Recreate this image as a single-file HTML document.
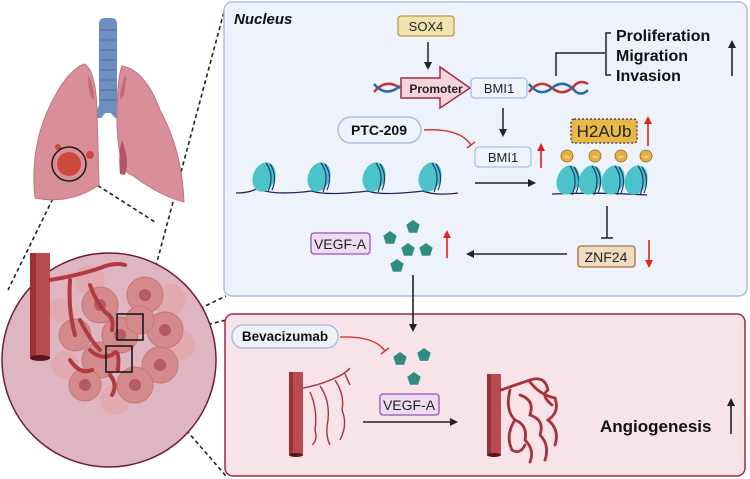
<!DOCTYPE html>
<html><head><meta charset="utf-8"><style>
html,body{margin:0;padding:0;background:#fff}
svg{display:block}
text{font-family:"Liberation Sans",Arial,sans-serif}
</style></head><body>
<svg width="750" height="479" viewBox="0 0 750 479" xmlns="http://www.w3.org/2000/svg">
<defs>
<marker id="ab" markerWidth="8" markerHeight="8" refX="6" refY="4" orient="auto" markerUnits="userSpaceOnUse"><path d="M0,0 L8,4 L0,8 z" fill="#222"/></marker>
<marker id="ar" markerWidth="8" markerHeight="8" refX="6" refY="4" orient="auto" markerUnits="userSpaceOnUse"><path d="M0,0 L8,4 L0,8 z" fill="#e0231b"/></marker>
<g id="pent"><polygon points="0,-7 6.7,-2.2 4.1,5.7 -4.1,5.7 -6.7,-2.2" fill="#2f8c80"/></g>
<g id="nuc"><ellipse cx="0" cy="0" rx="11" ry="15" fill="#4cc3cb" transform="rotate(20)"/><path d="M2,-14 Q11,-2 4,15 M6,-13 Q14,-1 8,13" stroke="#1e3a6a" stroke-width="1.2" fill="none"/></g>
</defs>

<!-- dashed zoom lines -->
<g stroke="#222" stroke-width="1.6" stroke-dasharray="4,3" fill="none">
<line x1="62" y1="180" x2="8" y2="290"/>
<line x1="86" y1="178" x2="155" y2="222"/>
<line x1="143" y1="314" x2="225" y2="8"/>
<line x1="143" y1="336" x2="226" y2="296"/>
<line x1="140" y1="341" x2="226" y2="320"/>
<line x1="136" y1="372" x2="226" y2="476"/>
</g>

<!-- lungs -->
<rect x="99" y="18" width="18" height="95" rx="5" fill="#6d8fc0"/>
<g stroke="#4f6fa0" stroke-width="1">
<line x1="99" y1="30" x2="117" y2="30"/><line x1="99" y1="40" x2="117" y2="40"/><line x1="99" y1="50" x2="117" y2="50"/><line x1="99" y1="60" x2="117" y2="60"/><line x1="99" y1="70" x2="117" y2="70"/><line x1="99" y1="80" x2="117" y2="80"/><line x1="99" y1="90" x2="117" y2="90"/><line x1="99" y1="100" x2="117" y2="100"/>
</g>
<path d="M99,105 L94,118 L101,118 L108,110 L115,118 L122,118 L117,105z" fill="#6d8fc0"/>
<path d="M84,64 Q96,70 97,112 L99,185 Q70,205 35,198 Q30,150 48,110 Q65,72 84,64z" fill="#d98f9a" stroke="#c07482" stroke-width="1"/>
<path d="M122,66 Q145,70 160,110 Q182,150 184,202 Q160,196 132,175 Q118,172 117,120 Q117,78 122,66z" fill="#d98f9a" stroke="#c07482" stroke-width="1"/>
<path d="M122,140 Q130,160 125,175 L120,174 Q118,150 122,140z" fill="#b45566"/>
<path d="M88,75 Q94,85 94,100 L90,95 Q88,85 88,75z" fill="#c06a7a"/>
<path d="M126,75 Q120,85 120,100 L124,95 Q126,85 126,75z" fill="#c06a7a"/>
<circle cx="69" cy="164" r="12" fill="#c94a3a"/>
<circle cx="90" cy="155" r="4" fill="#c94a3a"/><circle cx="58" cy="147" r="3" fill="#c94a3a"/>
<circle cx="69" cy="164" r="17" fill="none" stroke="#1a1a1a" stroke-width="1.5"/>

<!-- big circle -->
<circle cx="109" cy="360" r="107" fill="#dfb5c2" stroke="#6b1f33" stroke-width="1.5"/>
<g fill="#e3a8ac" opacity="0.8">
<circle cx="90" cy="280" r="15"/><circle cx="170" cy="300" r="16"/><circle cx="180" cy="345" r="15"/><circle cx="115" cy="400" r="15"/><circle cx="65" cy="365" r="14"/><circle cx="60" cy="310" r="12"/>
</g>
<g fill="#d48a8a" stroke="#c67676" stroke-width="1">
<circle cx="100" cy="305" r="18"/><circle cx="145" cy="295" r="18"/><circle cx="165" cy="330" r="18"/><circle cx="160" cy="365" r="18"/><circle cx="135" cy="385" r="18"/><circle cx="100" cy="360" r="18"/><circle cx="75" cy="335" r="16"/><circle cx="85" cy="385" r="16"/><circle cx="120" cy="335" r="18"/><circle cx="140" cy="320" r="14"/>
</g>
<g fill="#b55a66"><circle cx="100" cy="305" r="6"/><circle cx="145" cy="295" r="6"/><circle cx="165" cy="330" r="6"/><circle cx="135" cy="385" r="6"/><circle cx="120" cy="335" r="6"/><circle cx="85" cy="385" r="6"/><circle cx="160" cy="365" r="6"/></g>
<rect x="30" y="253" width="20" height="105" fill="#b84a50"/>
<rect x="30" y="253" width="6" height="105" fill="#9a3038"/>
<ellipse cx="40" cy="358" rx="10" ry="3" fill="#5a1520"/>
<g stroke="#b03a40" stroke-width="4" fill="none" stroke-linecap="round">
<path d="M50,280 Q80,275 100,268 Q115,262 125,265"/>
<path d="M70,280 Q68,310 75,335"/><path d="M90,285 Q95,300 105,312 Q115,318 112,330"/>
<path d="M80,320 Q90,340 100,350"/><path d="M90,350 Q100,360 112,355 Q120,345 118,370"/>
<path d="M70,360 Q80,375 92,370"/><path d="M110,375 Q118,385 112,395"/>
</g>
<rect x="117" y="314" width="26" height="26" fill="none" stroke="#1a1a1a" stroke-width="1.6"/>
<rect x="106" y="346" width="26" height="26" fill="none" stroke="#1a1a1a" stroke-width="1.6"/>

<!-- Nucleus box -->
<rect x="224" y="2" width="523" height="294" rx="8" fill="#eef3fb" stroke="#a8bfe0" stroke-width="1.5"/>
<text x="234" y="24" font-size="15" font-weight="bold" font-style="italic" fill="#111">Nucleus</text>

<rect x="398" y="16" width="56" height="20" rx="3" fill="#f0e3b0" stroke="#b89a50" stroke-width="1.3"/>
<text x="426" y="31" font-size="13" text-anchor="middle" fill="#222">SOX4</text>
<line x1="428" y1="42" x2="428" y2="68" stroke="#222" stroke-width="1.5" marker-end="url(#ab)"/>

<!-- DNA -->
<g fill="none" stroke-width="2.5">
<path d="M374,92 Q386,78 400,88" stroke="#c8323a"/><path d="M374,84 Q386,98 400,86" stroke="#2e6aa0"/>
<path d="M529,92 Q540,78 552,88 Q564,98 576,84 Q582,80 588,84" stroke="#c8323a"/>
<path d="M529,84 Q540,98 552,88 Q564,78 576,92 Q582,96 588,90" stroke="#2e6aa0"/>
</g>
<path d="M401,78 L440,78 L440,67 L470,88 L440,108 L440,98 L401,98 z" fill="#f6d4dc" stroke="#a32a48" stroke-width="1.5"/>
<text x="436" y="93" font-size="12" font-weight="bold" text-anchor="middle" fill="#222">Promoter</text>
<rect x="471" y="78" width="56" height="20" rx="4" fill="#eef3fb" stroke="#a8bfe0" stroke-width="1.3"/>
<text x="499" y="93" font-size="13" text-anchor="middle" fill="#222">BMI1</text>

<path d="M556,76 L556,53 L605,53 M611,33 L606,33 L606,75 L611,75" fill="none" stroke="#222" stroke-width="1.5"/>
<text x="616" y="41" font-size="16" font-weight="bold" fill="#111">Proliferation</text>
<text x="616" y="61" font-size="16" font-weight="bold" fill="#111">Migration</text>
<text x="616" y="81" font-size="16" font-weight="bold" fill="#111">Invasion</text>
<line x1="732" y1="76" x2="732" y2="42" stroke="#222" stroke-width="1.6" marker-end="url(#ab)"/>

<line x1="503" y1="108" x2="503" y2="135" stroke="#222" stroke-width="1.5" marker-end="url(#ab)"/>
<rect x="338" y="117" width="83" height="26" rx="13" fill="#eef3fb" stroke="#a8bfe0" stroke-width="1.5"/>
<text x="379" y="135" font-size="14" font-weight="bold" text-anchor="middle" fill="#111">PTC-209</text>
<path d="M424,130 Q460,128 471,145" fill="none" stroke="#d03a36" stroke-width="1.5"/>
<line x1="467" y1="148" x2="475" y2="142" stroke="#d03a36" stroke-width="1.5"/>
<rect x="475" y="147" width="56" height="20" rx="4" fill="#eef3fb" stroke="#a8bfe0" stroke-width="1.3"/>
<text x="503" y="162" font-size="13" text-anchor="middle" fill="#222">BMI1</text>
<line x1="541" y1="168" x2="541" y2="145" stroke="#e0231b" stroke-width="1.6" marker-end="url(#ar)"/>

<!-- nucleosomes -->
<path d="M236,193 Q250,193 258,188 Q270,196 312,191 Q325,196 368,191 Q380,196 423,191 Q435,196 458,193" fill="none" stroke="#1e2a5a" stroke-width="1.3"/>
<use href="#nuc" x="264" y="177"/><use href="#nuc" x="319" y="177"/><use href="#nuc" x="374" y="177"/><use href="#nuc" x="430" y="177"/>
<line x1="475" y1="183" x2="534" y2="183" stroke="#222" stroke-width="1.6" marker-end="url(#ab)"/>
<path d="M552,194 Q600,192 647,195" fill="none" stroke="#1e2a5a" stroke-width="1.3"/>
<use href="#nuc" x="568" y="180"/><use href="#nuc" x="590" y="180"/><use href="#nuc" x="613" y="180"/><use href="#nuc" x="636" y="180"/>
<g fill="#e8b040" stroke="#8a6a20" stroke-width="0.8">
<circle cx="567" cy="156" r="6"/><circle cx="595" cy="156" r="6"/><circle cx="621" cy="156" r="6"/><circle cx="646" cy="156" r="6"/></g>
<g font-size="4" fill="#fff" text-anchor="middle"><text x="567" y="158">Ub</text><text x="595" y="158">Ub</text><text x="621" y="158">Ub</text><text x="646" y="158">Ub</text></g>
<rect x="571" y="119" width="66" height="24" rx="3" fill="#e9b845" stroke="#3c2a5a" stroke-width="1.3" stroke-dasharray="2,2"/>
<text x="604" y="137" font-size="17" text-anchor="middle" fill="#222">H2AUb</text>
<line x1="648" y1="146" x2="648" y2="118" stroke="#e0231b" stroke-width="1.6" marker-end="url(#ar)"/>

<line x1="607" y1="206" x2="607" y2="238" stroke="#222" stroke-width="1.5"/>
<line x1="601" y1="238" x2="613" y2="238" stroke="#222" stroke-width="1.5"/>
<rect x="578" y="246" width="57" height="21" rx="3" fill="#f0dcc0" stroke="#a0703a" stroke-width="1.3"/>
<text x="606" y="262" font-size="14" text-anchor="middle" fill="#222">ZNF24</text>
<line x1="649" y1="240" x2="649" y2="266" stroke="#e0231b" stroke-width="1.6" marker-end="url(#ar)"/>
<line x1="567" y1="254" x2="468" y2="254" stroke="#222" stroke-width="1.6" marker-end="url(#ab)"/>
<line x1="447" y1="258" x2="447" y2="232" stroke="#e0231b" stroke-width="1.6" marker-end="url(#ar)"/>
<use href="#pent" x="390" y="238"/><use href="#pent" x="413" y="227"/><use href="#pent" x="408" y="250"/><use href="#pent" x="426" y="250"/><use href="#pent" x="397" y="266"/>
<rect x="311" y="233" width="59" height="21" rx="3" fill="#eedcf5" stroke="#9b4fb8" stroke-width="1.3"/>
<text x="340" y="249" font-size="14" text-anchor="middle" fill="#222">VEGF-A</text>

<!-- bottom box -->
<rect x="225" y="314" width="520" height="162" rx="8" fill="#f7e3e8" stroke="#9e2a44" stroke-width="1.5"/>
<line x1="413" y1="275" x2="413" y2="330" stroke="#222" stroke-width="1.6" marker-end="url(#ab)"/>
<rect x="232" y="325" width="106" height="23" rx="11" fill="#eef3fb" stroke="#a8bfe0" stroke-width="1.5"/>
<text x="285" y="341" font-size="13.5" font-weight="bold" text-anchor="middle" fill="#111">Bevacizumab</text>
<path d="M340,337 Q375,336 385,351" fill="none" stroke="#d03a36" stroke-width="1.5"/>
<line x1="381" y1="354" x2="389" y2="348" stroke="#d03a36" stroke-width="1.5"/>
<use href="#pent" x="400" y="359"/><use href="#pent" x="424" y="355"/><use href="#pent" x="414" y="379"/>
<rect x="380" y="394" width="59" height="21" rx="3" fill="#eedcf5" stroke="#9b4fb8" stroke-width="1.3"/>
<text x="409" y="410" font-size="14" text-anchor="middle" fill="#222">VEGF-A</text>
<line x1="363" y1="422" x2="456" y2="422" stroke="#222" stroke-width="1.6" marker-end="url(#ab)"/>

<rect x="289" y="372" width="14" height="83" fill="#b84a50"/><rect x="289" y="372" width="4" height="83" fill="#9a3038"/>
<ellipse cx="296" cy="455" rx="7" ry="2" fill="#5a1520"/>
<g stroke="#a8323a" stroke-width="1.4" fill="none">
<path d="M303,388 Q320,385 335,378 Q345,374 350,368"/><path d="M320,386 Q330,400 328,420 Q325,435 330,445"/>
<path d="M335,380 Q345,395 342,410 Q348,425 340,440"/><path d="M310,392 Q318,410 315,430 Q318,440 312,445"/>
<path d="M345,374 L350,385"/>
</g>
<rect x="487" y="374" width="14" height="81" fill="#b84a50"/><rect x="487" y="374" width="4" height="81" fill="#9a3038"/>
<ellipse cx="494" cy="455" rx="7" ry="2" fill="#5a1520"/>
<g stroke="#a8323a" stroke-width="2.8" fill="none" stroke-linecap="round">
<path d="M501,390 Q515,385 530,380 Q545,375 548,390 Q540,395 552,405"/>
<path d="M510,390 Q505,410 515,420 Q505,435 512,450 Q520,455 525,445"/>
<path d="M520,395 Q535,400 530,415 Q545,420 540,435 Q550,445 545,460"/>
<path d="M530,382 Q540,395 555,398 Q560,412 548,420 Q560,430 555,445"/>
<path d="M515,420 Q528,425 525,440 Q535,450 530,462"/>
</g>
<text x="600" y="432" font-size="17" font-weight="bold" fill="#111">Angiogenesis</text>
<line x1="731" y1="434" x2="731" y2="400" stroke="#222" stroke-width="1.6" marker-end="url(#ab)"/>
</svg>
</body></html>
